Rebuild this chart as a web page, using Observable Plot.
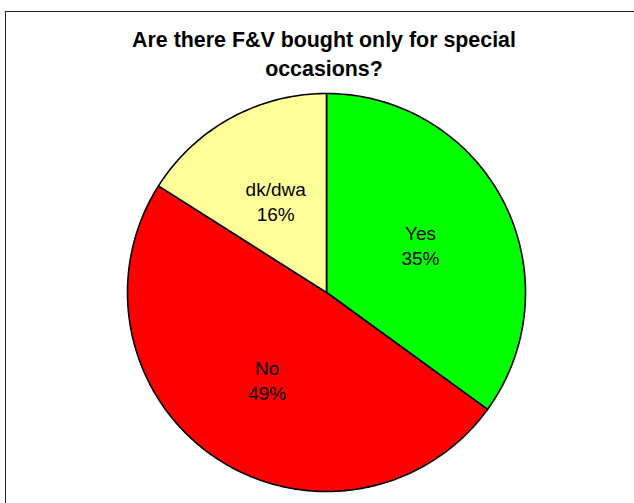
<!DOCTYPE html>
<html>
<head>
<meta charset="utf-8">
<script src="https://cdn.jsdelivr.net/npm/d3@7"></script>
<script src="https://cdn.jsdelivr.net/npm/@observablehq/plot@0.6"></script>
<style>
  body { margin: 0; background: #fff; }
  #wrap { position: relative; width: 634px; height: 503px; overflow: hidden; font-family: Arial, "Liberation Sans", sans-serif; background: #fff; }
  #frame { position: absolute; left: 5px; top: 11px; width: 700px; height: 600px; border: 1px solid #222; box-sizing: border-box; }
  #chart { position: absolute; left: 0; top: 0; }
  #title { position: absolute; left: 0; width: 648px; top: 26px; text-align: center; font-weight: bold; font-size: 21.4px; line-height: 29px; color: #000; }
</style>
</head>
<body>
<div id="wrap">
  <div id="frame"></div>
  <div id="chart"></div>
  <div id="title">Are there F&amp;V bought only for special<br>occasions?</div>
</div>
<script>
const categories = ["Yes", "No", "dk/dwa"];
const percents = [35, 49, 16];
const colors = ["#00FF00", "#FF0000", "#FFFF99"];

const arcs = d3.pie().sort(null).value(d => d)(percents);
const slicePoints = [];
const labels = [];
arcs.forEach((a, i) => {
  const cat = categories[i];
  slicePoints.push({cat, x: 0, y: 0});
  const n = Math.max(8, Math.ceil((a.endAngle - a.startAngle) * 60));
  for (let k = 0; k <= n; k++) {
    const t = a.startAngle + (a.endAngle - a.startAngle) * k / n;
    slicePoints.push({cat, x: Math.sin(t), y: Math.cos(t)});
  }
  const mid = (a.startAngle + a.endAngle) / 2;
  const r = 0.53;
  labels.push({cat, x: r * Math.sin(mid), y: r * Math.cos(mid), text: cat + "\n" + percents[i] + "%"});
});

const chart = Plot.plot({
  width: 634,
  height: 503,
  marginLeft: 127,
  marginRight: 109,
  marginTop: 93,
  marginBottom: 12,
  x: {domain: [-1, 1], axis: null},
  y: {domain: [-1, 1], axis: null},
  color: {domain: categories, range: colors},
  style: {fontFamily: "Arial, 'Liberation Sans', sans-serif", background: "transparent"},
  marks: [
    Plot.line(slicePoints, {x: "x", y: "y", z: "cat", fill: "cat", stroke: "#000", strokeWidth: 1.6, curve: "linear-closed", strokeLinejoin: "round"}),
    Plot.text(labels, {x: "x", y: "y", text: "text", fontSize: 19, lineHeight: 1.32, fill: "#000"})
  ]
});
document.getElementById("chart").appendChild(chart);
</script>
</body>
</html>
